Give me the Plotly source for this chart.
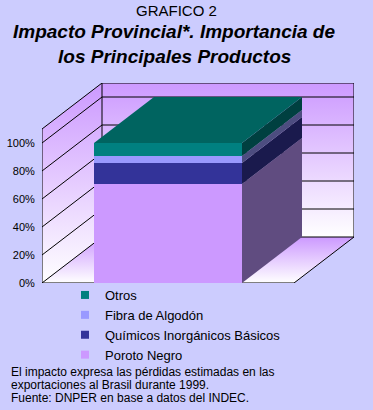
import plotly.graph_objects as go

# ---------------- data ----------------
categories = ["Otros", "Fibra de Algodón", "Químicos Inorgánicos Básicos", "Poroto Negro"]
shares = [9.3, 5.0, 15.0, 70.7]          # % of total, listed top to bottom
front_colors = ["#008080", "#9999ff", "#333399", "#cc99ff"]
side_colors = ["#004040", "#4d4d80", "#1a1a4d", "#604c80"]
top_color = "#006460"
tick_values = [0, 20, 40, 60, 80, 100]
tick_labels = ["0%", "20%", "40%", "60%", "80%", "100%"]
footer_lines = [
    "El impacto expresa las pérdidas estimadas en las",
    "exportaciones al Brasil durante 1999.",
    "Fuente: DNPER en base a datos del INDEC.",
]

# ---------------- geometry (axis units) ----------------
W, H = 373, 410
ML, MR, MT, MB = 42, 19, 83, 127
PX_PER_X = 148.0          # pixels per x unit (bar width = 1)
PX_PER_Y = 1.4            # pixels per percent
X0 = -0.5 - 52 / PX_PER_X
X1 = X0 + (W - ML - MR) / PX_PER_X
Y1 = (H - MT - MB) / PX_PER_Y
DX = 60 / PX_PER_X        # depth offset
DY = 46 / PX_PER_Y
WALL_TOP = 110
BG = "#ccccfe"
WALL_SCALE = [[0, "#ffffff"], [1, "#cc99ff"]]

fig = go.Figure()

# walls and floor (base subplot)
def poly(xs, ys, y_start, y_stop):
    fig.add_trace(go.Scatter(
        x=xs + [xs[0]], y=ys + [ys[0]], mode="lines", fill="toself",
        line=dict(width=0), fillcolor="#cc99ff",
        fillgradient=dict(type="vertical", start=y_start, stop=y_stop, colorscale=WALL_SCALE),
        hoverinfo="skip", showlegend=False, xaxis="x", yaxis="y"))

poly([X0 + DX, X1, X1, X0 + DX], [DY, DY, WALL_TOP + DY, WALL_TOP + DY], DY, WALL_TOP + DY)
poly([X0, X0 + DX, X0 + DX, X0], [0, DY, WALL_TOP + DY, WALL_TOP], 0, WALL_TOP + DY)
poly([X0, X1 - DX, X1, X0 + DX], [0, 0, DY, DY], 0, DY)

# gridlines
gx, gy = [], []
for v in tick_values:
    gx += [X0, X0 + DX, X1, None]
    gy += [v, v + DY, v + DY, None]
fig.add_trace(go.Scatter(x=gx, y=gy, mode="lines", line=dict(color="black", width=1),
                         hoverinfo="skip", showlegend=False))
# frame
fx = [X0, X0, X0 + DX, X1, X1, X1 - DX, X0, None, X0 + DX, X0 + DX]
fy = [0, WALL_TOP, WALL_TOP + DY, WALL_TOP + DY, DY, 0, 0, None, DY, WALL_TOP + DY]
fig.add_trace(go.Scatter(x=fx, y=fy, mode="lines", line=dict(color="black", width=1),
                         hoverinfo="skip", showlegend=False))

# bars (overlay subplot)
order = list(range(len(categories)))[::-1]   # bottom to top
base = 0
for i in order:
    fig.add_trace(go.Bar(x=[0], y=[shares[i]], width=1, marker=dict(color=front_colors[i], line=dict(width=0)),
                         name=categories[i], showlegend=False, xaxis="x2", yaxis="y2", hoverinfo="skip"))
    b, t = base, base + shares[i]
    fig.add_trace(go.Scatter(x=[0.5, 0.5 + DX, 0.5 + DX, 0.5, 0.5], y=[b, b + DY, t + DY, t, b],
                             mode="lines", fill="toself", fillcolor=side_colors[i], line=dict(width=0),
                             hoverinfo="skip", showlegend=False, xaxis="x2", yaxis="y2"))
    base = t
T = base
fig.add_trace(go.Scatter(x=[-0.5, 0.5, 0.5 + DX, -0.5 + DX, -0.5], y=[T, T, T + DY, T + DY, T],
                         mode="lines", fill="toself", fillcolor=top_color, line=dict(width=0),
                         hoverinfo="skip", showlegend=False, xaxis="x2", yaxis="y2"))

# legend entries
for name, col in zip(categories, front_colors):
    fig.add_trace(go.Scatter(x=[None], y=[None], mode="markers", name=name,
                             marker=dict(symbol="square", size=8, color=col), xaxis="x2", yaxis="y2"))

ax = dict(range=[X0, X1], showgrid=False, zeroline=False, showticklabels=False, showline=False, fixedrange=True)
ay = dict(range=[0, Y1], showgrid=False, zeroline=False, showline=False, fixedrange=True)
fig.update_layout(
    width=W, height=H, margin=dict(l=ML, r=MR, t=MT, b=MB, pad=0, autoexpand=False),
    paper_bgcolor=BG, plot_bgcolor=BG, barmode="stack", bargap=0,
    font=dict(family="Arial, Liberation Sans, sans-serif", color="black"),
    xaxis=ax, yaxis=dict(**ay, tickvals=tick_values, ticktext=tick_labels, ticks="outside", ticklen=4,
                         tickcolor="rgba(0,0,0,0)", tickfont=dict(size=11)),
    xaxis2=dict(**ax, overlaying="x"), yaxis2=dict(**ay, overlaying="y", showticklabels=False),
    legend=dict(xref="container", yref="container", x=65 / W, y=1 - 280 / H, xanchor="left", yanchor="top",
                font=dict(size=13), bgcolor="rgba(0,0,0,0)", traceorder="normal", itemwidth=30),
    showlegend=True,
)

def py(px):
    return (H - MB - px) / (H - MT - MB)
def pxx(px):
    return (px - ML) / (W - ML - MR)

fig.add_annotation(text="GRAFICO 2", x=pxx(176), y=py(10.5), xref="paper", yref="paper",
                   showarrow=False, font=dict(size=15), xanchor="center", yanchor="middle")
fig.add_annotation(text="<b><i>Impacto Provincial*. Importancia de</i></b>", x=pxx(174), y=py(31),
                   xref="paper", yref="paper", showarrow=False, font=dict(size=19), xanchor="center", yanchor="middle")
fig.add_annotation(text="<b><i>los Principales Productos</i></b>", x=pxx(174), y=py(56),
                   xref="paper", yref="paper", showarrow=False, font=dict(size=19), xanchor="center", yanchor="middle")
for line, c in zip(footer_lines, [371.5, 385, 398.3]):
    fig.add_annotation(text=line, x=pxx(9), y=py(c), xref="paper", yref="paper", showarrow=False,
                       font=dict(size=12), xanchor="left", yanchor="middle")

fig.write_html("out.html", config={"displayModeBar": False},
               post_script="document.body.style.margin='0';")
